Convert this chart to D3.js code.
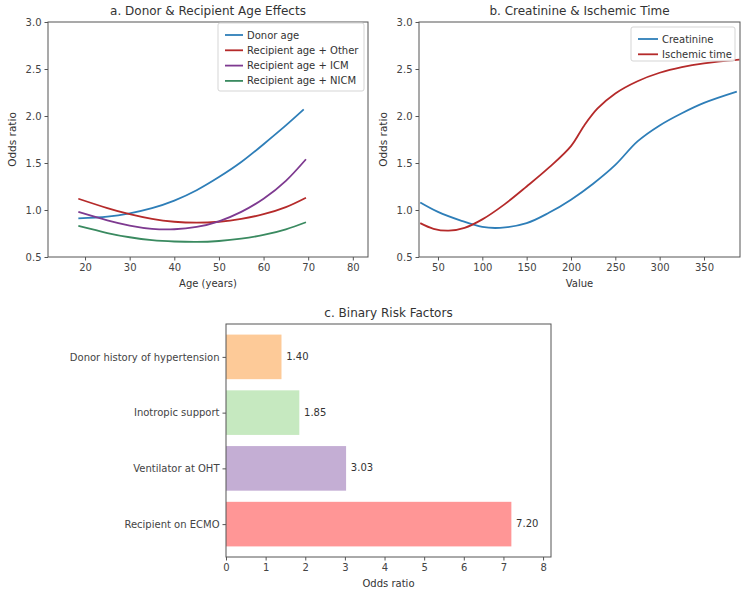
<!DOCTYPE html>
<html>
<head>
<meta charset="utf-8">
<script src="https://cdn.jsdelivr.net/npm/d3@7"></script>
<style>
  body { margin: 0; background: #fff; }
  svg text { font-family: "DejaVu Sans", sans-serif; fill: #333; }
  .axis path, .axis line { stroke: #555; }
  .axis text { font-size: 10px; fill: #444; }
</style>
</head>
<body>
<div id="chart"></div>
<script>
// panel a - age effects
const ageX = [18.5, 25, 30, 35, 40, 45, 50, 55, 60, 65, 69.5];
const ageDonorX = [18.5, 25, 30, 35, 40, 45, 50, 55, 60, 65, 69];
const donorAge = [0.91, 0.93, 0.965, 1.02, 1.10, 1.21, 1.35, 1.51, 1.70, 1.90, 2.07];
const recipOther = [1.12, 1.02, 0.955, 0.905, 0.875, 0.865, 0.875, 0.905, 0.955, 1.03, 1.13];
const recipICM = [0.98, 0.89, 0.835, 0.80, 0.795, 0.82, 0.88, 0.98, 1.12, 1.31, 1.54];
const recipNICM = [0.83, 0.755, 0.71, 0.68, 0.665, 0.66, 0.67, 0.695, 0.735, 0.795, 0.87];

// panel b - creatinine & ischemic time
const creatX = [30, 50, 75, 100, 120, 150, 175, 200, 225, 250, 275, 300, 325, 350, 387];
const creatY = [1.08, 0.98, 0.89, 0.82, 0.81, 0.86, 0.97, 1.11, 1.28, 1.48, 1.73, 1.90, 2.03, 2.14, 2.26];
const ischX = [30, 45, 62, 80, 100, 125, 150, 175, 200, 215, 230, 250, 275, 300, 325, 350, 390];
const ischY = [0.86, 0.80, 0.78, 0.81, 0.90, 1.06, 1.25, 1.45, 1.68, 1.90, 2.08, 2.24, 2.37, 2.46, 2.52, 2.56, 2.60];

// panel c - binary factors
const factors = ["Recipient on ECMO", "Ventilator at OHT", "Inotropic support", "Donor history of hypertension"];
const oddsRatios = [7.20, 3.03, 1.85, 1.40];
const barColors = ["#ff9696", "#c4aed4", "#c6e9c0", "#fdca98"];

const svg = d3.select("#chart").append("svg")
	.attr("width", 750)
	.attr("height", 595);

function zip(xs, ys){ return xs.map((x,i)=>[x, ys[i]]); }

//line panel helper
function linePanel(box, xDomain, xTicks, title, xLabel, series, legend, curve){
	let x = d3.scaleLinear().domain(xDomain).range([box.left, box.right]);
	let y = d3.scaleLinear().domain([0.5, 3.0]).range([box.bottom, box.top]);

	svg.append("g").attr("class","axis")
		.attr("transform", `translate(0,${box.bottom})`)
		.call(d3.axisBottom(x).tickValues(xTicks).tickSize(3.5).tickPadding(3).tickFormat(d3.format("d")))
		.call(g => g.select(".domain").remove());

	svg.append("g").attr("class","axis")
		.attr("transform", `translate(${box.left},0)`)
		.call(d3.axisLeft(y).tickValues([0.5,1.0,1.5,2.0,2.5,3.0]).tickSize(3.5).tickPadding(3).tickFormat(d3.format(".1f")))
		.call(g => g.select(".domain").remove());

	let line = d3.line()
		.x(d => x(d[0]))
		.y(d => y(d[1]))
		.curve(curve);

	series.forEach(s => {
		svg.append("path")
			.datum(s.data)
			.attr("d", line)
			.attr("fill","none")
			.attr("stroke", s.color)
			.attr("stroke-width", 1.8);
	});

	svg.append("rect")
		.attr("x", box.left).attr("y", box.top)
		.attr("width", box.right-box.left).attr("height", box.bottom-box.top)
		.attr("fill","none").attr("stroke","#555").attr("stroke-width",1);

	svg.append("text")
		.attr("x", (box.left+box.right)/2).attr("y", box.top-7)
		.attr("text-anchor","middle").attr("font-size", 12)
		.text(title);

	svg.append("text")
		.attr("x", (box.left+box.right)/2).attr("y", box.bottom+30)
		.attr("text-anchor","middle").attr("font-size", 10)
		.text(xLabel);

	svg.append("text")
		.attr("transform", `translate(${box.left-32},${(box.top+box.bottom)/2}) rotate(-90)`)
		.attr("text-anchor","middle").attr("font-size", 10.5)
		.text("Odds ratio");

	//legend
	let lg = svg.append("g");
	lg.append("rect")
		.attr("x", legend.x).attr("y", legend.y)
		.attr("width", legend.w).attr("height", legend.h)
		.attr("rx", 2).attr("fill","#fff").attr("fill-opacity",0.85)
		.attr("stroke","#d5d5d5");
	series.forEach((s,i) => {
		let yy = legend.y + 12 + i*15.3;
		lg.append("line")
			.attr("x1", legend.x+7).attr("x2", legend.x+7+legend.len)
			.attr("y1", yy).attr("y2", yy)
			.attr("stroke", s.color).attr("stroke-width", 1.8);
		lg.append("text")
			.attr("x", legend.x+11+legend.len).attr("y", yy)
			.attr("dy","0.35em").attr("font-size", 10)
			.text(s.name);
	});
}

linePanel(
	{left:48, right:368, top:22, bottom:257},
	[11.7, 83.4], [20,30,40,50,60,70,80],
	"a. Donor & Recipient Age Effects", "Age (years)",
	[
		{name:"Donor age", color:"#2e7eb8", data: zip(ageDonorX, donorAge)},
		{name:"Recipient age + Other", color:"#b52a2a", data: zip(ageX, recipOther)},
		{name:"Recipient age + ICM", color:"#7e3a90", data: zip(ageX, recipICM)},
		{name:"Recipient age + NICM", color:"#3a8a60", data: zip(ageX, recipNICM)}
	],
	{x:218, y:23, w:146, h:68, len:18},
	d3.curveNatural
);

linePanel(
	{left:419, right:740, top:22, bottom:257},
	[28.6, 390.6], [50,100,150,200,250,300,350],
	"b. Creatinine & Ischemic Time", "Value",
	[
		{name:"Creatinine", color:"#2e7eb8", data: zip(creatX, creatY)},
		{name:"Ischemic time", color:"#b52a2a", data: zip(ischX, ischY)}
	],
	{x:631, y:27, w:104, h:34, len:20},
	d3.curveCatmullRom.alpha(0.5)
);

//panel c bars
const cBox = {left:226, right:551, top:324, bottom:557};
let xc = d3.scaleLinear().domain([0, 8.2]).range([cBox.left, cBox.right]);
let yc = d3.scaleLinear().domain([-0.59, 3.59]).range([cBox.bottom, cBox.top]);
const barH = 0.8;

svg.append("g").attr("class","axis")
	.attr("transform", `translate(0,${cBox.bottom})`)
	.call(d3.axisBottom(xc).ticks(8).tickSize(3.5).tickPadding(3))
	.call(g => g.select(".domain").remove());

svg.append("g").attr("class","axis")
	.attr("transform", `translate(${cBox.left},0)`)
	.call(d3.axisLeft(yc).tickValues(d3.range(factors.length)).tickSize(3.5).tickPadding(3).tickFormat(i => factors[i]))
	.call(g => g.select(".domain").remove());

svg.append("g")
	.selectAll("rect")
	.data(oddsRatios)
	.join("rect")
	.attr("x", xc(0))
	.attr("y", (d,i) => yc(i + barH/2))
	.attr("width", d => xc(d) - xc(0))
	.attr("height", yc(0) - yc(barH))
	.attr("fill", (d,i) => barColors[i]);

svg.append("g")
	.selectAll("text")
	.data(oddsRatios)
	.join("text")
	.attr("x", d => xc(d + 0.12))
	.attr("y", (d,i) => yc(i))
	.attr("dy", "0.3em")
	.attr("font-size", 10)
	.text(d => d.toFixed(2));

svg.append("rect")
	.attr("x", cBox.left).attr("y", cBox.top)
	.attr("width", cBox.right-cBox.left).attr("height", cBox.bottom-cBox.top)
	.attr("fill","none").attr("stroke","#555");

svg.append("text")
	.attr("x", (cBox.left+cBox.right)/2).attr("y", cBox.top-7)
	.attr("text-anchor","middle").attr("font-size", 12)
	.text("c. Binary Risk Factors");

svg.append("text")
	.attr("x", (cBox.left+cBox.right)/2).attr("y", cBox.bottom+30)
	.attr("text-anchor","middle").attr("font-size", 10)
	.text("Odds ratio");
</script>
</body>
</html>
